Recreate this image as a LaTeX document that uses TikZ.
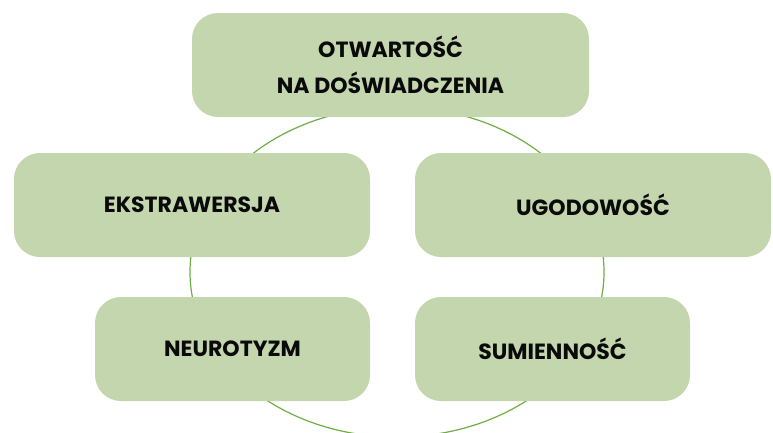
\documentclass[tikz,border=0pt]{standalone}
\usepackage{fontspec}
\setmainfont{Poppins}
\usetikzlibrary{shapes.geometric}
\definecolor{boxfill}{RGB}{195,214,174}
\definecolor{ringgreen}{RGB}{112,173,71}
\definecolor{txt}{RGB}{10,10,10}
\begin{document}
\begin{tikzpicture}[x=1pt,y=-1pt,
  trait/.style={rectangle, rounded corners=26pt, fill=boxfill, draw=none,
    minimum height=104pt, inner sep=0pt, align=center, text=txt,
    font=\fontsize{22}{36}\selectfont\bfseries},
  ring/.style={ellipse, draw=ringgreen, line width=1.2pt, inner sep=0pt,
    minimum width=414pt, minimum height=330pt}]
\useasboundingbox (0,0) rectangle (773,432);
\clip (0,0) rectangle (773,432);
\node[ring] (ring) at (397,272) {};
\node[trait, minimum width=397pt] (otw) at (390.5,65) {OTWARTOŚĆ\\NA DOŚWIADCZENIA};
\node[trait, minimum width=356pt] (eks) at (192,205) {EKSTRAWERSJA};
\node[trait, minimum width=356pt] (ugo) at (593,205) {UGODOWOŚĆ};
\node[trait, minimum width=275pt] (neu) at (232.5,349) {NEUROTYZM};
\node[trait, minimum width=275pt] (sum) at (552.5,349) {SUMIENNOŚĆ};
\end{tikzpicture}
\end{document}
